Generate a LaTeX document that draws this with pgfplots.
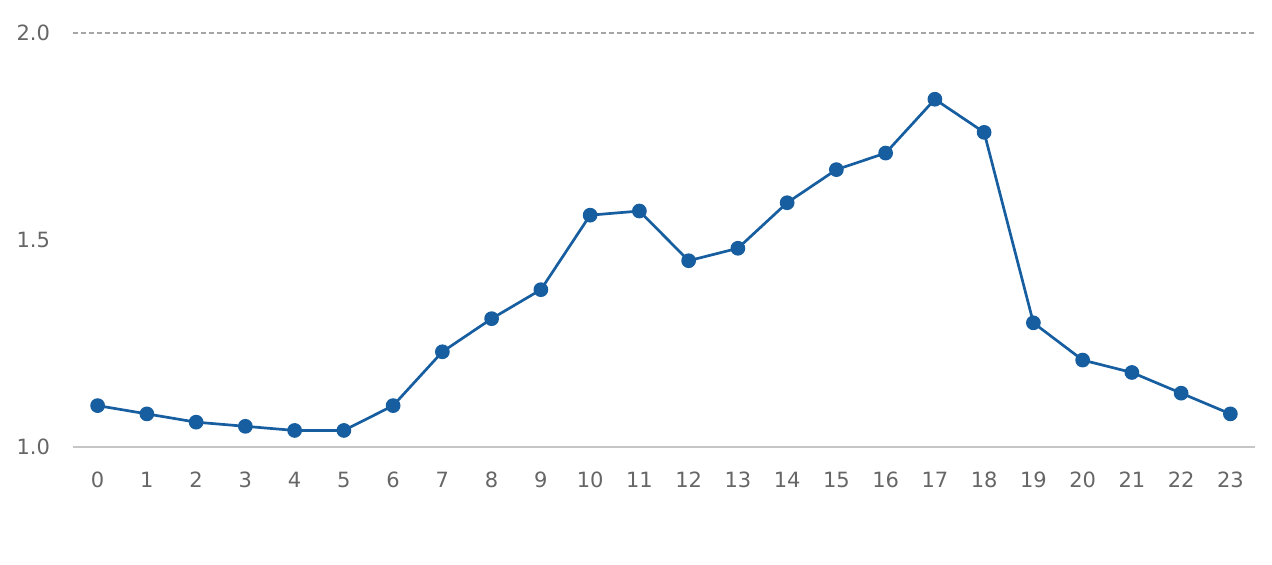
\documentclass[border=0pt]{standalone}
\usepackage{fontspec}
\setmainfont{DejaVu Sans}
\usepackage{pgfplots}
\pgfplotsset{compat=1.18}
\definecolor{lineblue}{RGB}{22,94,160}
\definecolor{ticktext}{RGB}{102,102,102}
\begin{document}
\begin{tikzpicture}
\begin{axis}[
  scale only axis,
  width=591pt, height=207pt,
  xmin=-0.5, xmax=23.5, ymin=1, ymax=2,
  axis line style={draw=none},
  clip=false,
  xtick={0,...,23},
  ytick={1,1.5,2},
  yticklabels={1.0,1.5,2.0},
  major tick length=0pt,
  tick style={draw=none},
  tick label style={font=\fontsize{10.5}{12}\selectfont, text=ticktext},
  /pgf/number format/assume math mode=true,
  xticklabel style={yshift=-9pt, text height=7.7pt, text depth=0pt},
  yticklabel style={xshift=-8pt},
]
\draw[gray!45, line width=0.6pt] (axis cs:-0.5,1) -- (axis cs:23.5,1);
\draw[gray!70, line width=0.6pt, dash pattern=on 2.5pt off 1.5pt] (axis cs:-0.5,2) -- (axis cs:23.5,2);
\addplot[lineblue, line width=1.35pt, mark=*, mark size=3pt, mark options={fill=lineblue, draw=lineblue}] coordinates {
(0,1.10) (1,1.08) (2,1.06) (3,1.05) (4,1.04) (5,1.04) (6,1.10) (7,1.23)
(8,1.31) (9,1.38) (10,1.56) (11,1.57) (12,1.45) (13,1.48) (14,1.59) (15,1.67)
(16,1.71) (17,1.84) (18,1.76) (19,1.30) (20,1.21) (21,1.18) (22,1.13) (23,1.08)
};
\end{axis}
\path ([xshift=-36.5pt,yshift=-58.5pt]current axis.south west) rectangle ([xshift=599.5pt,yshift=223.5pt]current axis.south west);
\end{tikzpicture}
\end{document}
